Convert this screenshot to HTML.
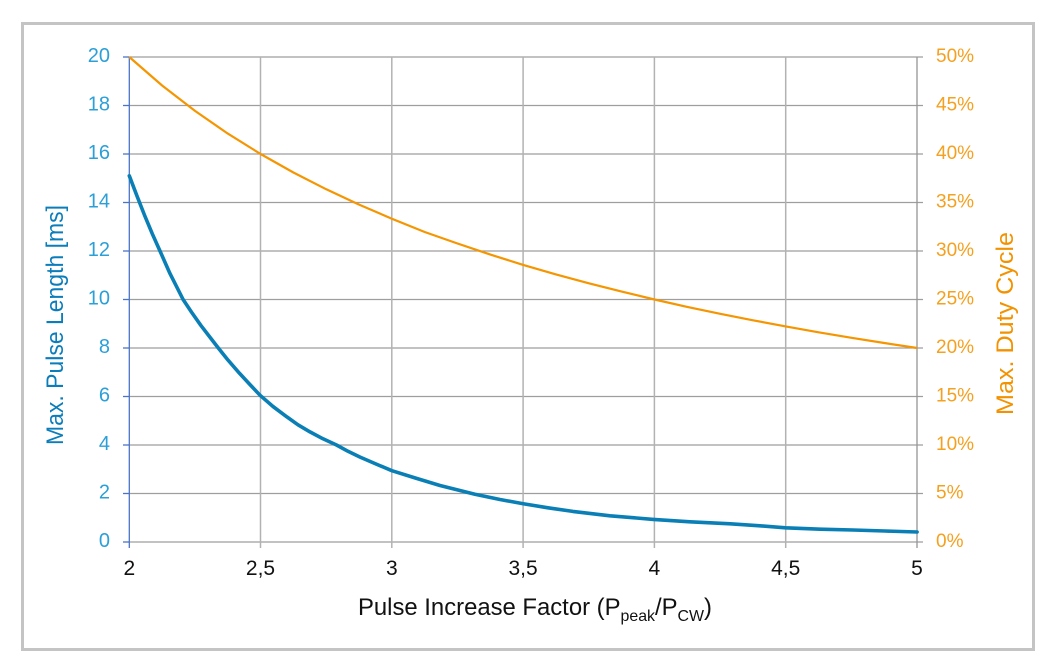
<!DOCTYPE html>
<html>
<head>
<meta charset="utf-8">
<style>
  html,body{margin:0;padding:0;background:#fff;}
  svg{display:block;}
  text{font-family:"Liberation Sans","DejaVu Sans",sans-serif;}
</style>
</head>
<body>
<svg width="1062" height="672" viewBox="0 0 1062 672" xmlns="http://www.w3.org/2000/svg">
  <rect x="0" y="0" width="1062" height="672" fill="#fff"/>
  <!-- frame -->
  <rect x="22.5" y="23.5" width="1011" height="626" fill="none" stroke="#c4c4c4" stroke-width="3"/>

  <!-- horizontal gridlines -->
  <g stroke="#9e9e9e" stroke-width="1.2">
    <line x1="129" y1="57" x2="923" y2="57"/>
    <line x1="129" y1="105.5" x2="923" y2="105.5"/>
    <line x1="129" y1="154" x2="923" y2="154"/>
    <line x1="129" y1="202.5" x2="923" y2="202.5"/>
    <line x1="129" y1="251" x2="923" y2="251"/>
    <line x1="129" y1="299.5" x2="923" y2="299.5"/>
    <line x1="129" y1="348" x2="923" y2="348"/>
    <line x1="129" y1="396.5" x2="923" y2="396.5"/>
    <line x1="129" y1="445" x2="923" y2="445"/>
    <line x1="129" y1="493.5" x2="923" y2="493.5"/>
    <line x1="129" y1="542" x2="923" y2="542"/>
  </g>
  <!-- vertical gridlines -->
  <g stroke="#b2b2b2" stroke-width="1.5">
    <line x1="260.5" y1="57" x2="260.5" y2="548"/>
    <line x1="391.8" y1="57" x2="391.8" y2="548"/>
    <line x1="523.1" y1="57" x2="523.1" y2="548"/>
    <line x1="654.4" y1="57" x2="654.4" y2="548"/>
    <line x1="785.7" y1="57" x2="785.7" y2="548"/>
  </g>
  <!-- right axis -->
  <line x1="917" y1="57" x2="917" y2="548" stroke="#959595" stroke-width="1.3"/>
  <!-- left axis ticks (blue) -->
  <g stroke="#4a74c9" stroke-width="1.3">
    <line x1="123" y1="57" x2="129" y2="57"/>
    <line x1="123" y1="105.5" x2="129" y2="105.5"/>
    <line x1="123" y1="154" x2="129" y2="154"/>
    <line x1="123" y1="202.5" x2="129" y2="202.5"/>
    <line x1="123" y1="251" x2="129" y2="251"/>
    <line x1="123" y1="299.5" x2="129" y2="299.5"/>
    <line x1="123" y1="348" x2="129" y2="348"/>
    <line x1="123" y1="396.5" x2="129" y2="396.5"/>
    <line x1="123" y1="445" x2="129" y2="445"/>
    <line x1="123" y1="493.5" x2="129" y2="493.5"/>
    <line x1="123" y1="542" x2="129" y2="542"/>
    <line x1="129.3" y1="57" x2="129.3" y2="548"/>
  </g>

  <!-- left tick labels -->
  <g fill="#2b9fd8" font-size="20" text-anchor="end">
    <text x="110" y="62">20</text>
    <text x="110" y="110.5">18</text>
    <text x="110" y="159">16</text>
    <text x="110" y="207.5">14</text>
    <text x="110" y="256">12</text>
    <text x="110" y="304.5">10</text>
    <text x="110" y="353">8</text>
    <text x="110" y="401.5">6</text>
    <text x="110" y="450">4</text>
    <text x="110" y="498.5">2</text>
    <text x="110" y="547">0</text>
  </g>

  <!-- right tick labels -->
  <g fill="#f5a01e" font-size="19">
    <text x="936" y="62">50%</text>
    <text x="936" y="110.5">45%</text>
    <text x="936" y="159">40%</text>
    <text x="936" y="207.5">35%</text>
    <text x="936" y="256">30%</text>
    <text x="936" y="304.5">25%</text>
    <text x="936" y="353">20%</text>
    <text x="936" y="401.5">15%</text>
    <text x="936" y="450">10%</text>
    <text x="936" y="498.5">5%</text>
    <text x="936" y="547">0%</text>
  </g>

  <!-- bottom tick labels -->
  <g fill="#111" font-size="21" text-anchor="middle">
    <text x="129.3" y="575">2</text>
    <text x="260.5" y="575">2,5</text>
    <text x="391.8" y="575">3</text>
    <text x="523.1" y="575">3,5</text>
    <text x="654.4" y="575">4</text>
    <text x="785.7" y="575">4,5</text>
    <text x="917" y="575">5</text>
  </g>

  <!-- axis titles -->
  <text x="358" y="615" font-size="24" fill="#111" textLength="354" lengthAdjust="spacingAndGlyphs">Pulse Increase Factor (P<tspan font-size="16" dy="6">peak</tspan><tspan dy="-6">/P</tspan><tspan font-size="16" dy="6">CW</tspan><tspan dy="-6">)</tspan></text>
  <text transform="translate(63,445) rotate(-90)" font-size="24" fill="#0b7dba" textLength="240" lengthAdjust="spacingAndGlyphs">Max. Pulse Length [ms]</text>
  <text transform="translate(1013,415) rotate(-90)" font-size="24" fill="#f39200" textLength="183" lengthAdjust="spacingAndGlyphs">Max. Duty Cycle</text>

  <!-- orange series -->
  <polyline fill="none" stroke="#f59500" stroke-width="2.2" stroke-linejoin="round" points="129.3,57 162.1,85.5 195,110.9 227.8,133.6 260.6,154 293.4,172.5 326.3,189.3 359.1,204.6 391.9,218.7 424.7,232 457.5,243.5 490.4,254.6 523.2,264.9 556,274.4 588.9,283.3 621.7,291.6 654.5,299.5 687.3,306.9 720.2,313.8 753,320.3 785.8,326.4 818.6,332.3 851.5,337.8 884.3,343 917.1,348"/>

  <!-- blue series -->
  <polyline fill="none" stroke="#0a7fb6" stroke-width="3.6" stroke-linejoin="round" stroke-linecap="round" points="129.3,175.8 137,196 144.7,215.6 152.3,233.8 160,251 170,273.6 183.1,299.5 191.5,312.1 200.7,325.2 209.5,336.6 218.3,348 228,360.1 239.6,373.4 250,384.6 260.1,395.3 273,406.5 286.9,416.9 298,424.8 310,431.9 323,438.8 336.5,445 348,451.3 360.1,457.1 376,464 391.9,470.7 415.3,478 440,485.5 474.9,494.2 500,499.5 524,503.9 548,507.8 572.8,511.4 610,515.8 653.4,519.4 690,521.8 730.4,523.8 760,525.8 785.5,527.8 820,529.2 853,530 885,531 917.1,532"/>
</svg>
</body>
</html>
